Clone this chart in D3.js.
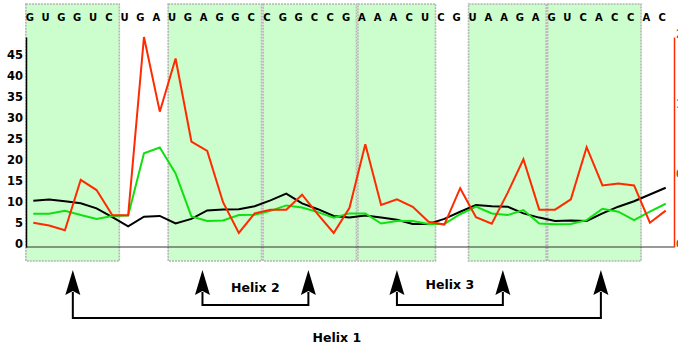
<!DOCTYPE html>
<html>
<head>
<meta charset="utf-8">
<script src="https://cdn.jsdelivr.net/npm/d3@7"></script>
<style>
  html, body { margin: 0; padding: 0; background: #fff; }
  svg { display: block; }
  text { font-family: "DejaVu Sans", sans-serif; font-weight: bold; }
</style>
</head>
<body>
<svg id="chart" width="678" height="346"></svg>
<script>
// RNA sequence, one nucleotide per position
const sequence = "GUGGUCUGAUGAGGCCGGCCGAAACUCGUAAGAGUCACCAC".split("");

// Paired stretches (inclusive nucleotide index ranges)
const pairedBlocks = [[0, 5], [9, 14], [15, 20], [21, 25], [28, 32], [33, 38]];

// Per-position profiles
const blackSeries = [11.0, 11.3, 10.9, 10.4, 9.2, 7.1, 4.9, 7.2, 7.4, 5.6,
  6.7, 8.7, 8.9, 9.0, 9.7, 11.1, 12.7, 10.4, 9.0, 7.4,
  7.0, 7.5, 7.0, 6.5, 5.5, 5.5, 6.7, 8.4, 10.0, 9.7,
  9.6, 8.0, 7.0, 6.2, 6.3, 6.2, 8.0, 9.6, 10.9, 12.5, 14.1];
const greenSeries = [7.9, 7.9, 8.6, 7.6, 6.7, 7.4, 7.5, 22.3, 23.7, 17.5,
  7.3, 6.2, 6.3, 7.6, 7.7, 8.6, 9.9, 9.4, 8.3, 7.0,
  8.0, 8.0, 5.6, 6.2, 6.2, 5.5, 5.5, 7.8, 9.6, 8.0,
  7.6, 8.8, 5.6, 5.4, 5.5, 6.4, 9.1, 8.4, 6.4, 8.4, 10.3];
// Red profile, read on the right-hand axis
const redSeries = [0.26, 0.23, 0.18, 0.72, 0.61, 0.34, 0.34, 2.25, 1.45, 2.02,
  1.13, 1.03, 0.48, 0.15, 0.36, 0.40, 0.40, 0.56, 0.35, 0.15,
  0.42, 1.10, 0.45, 0.51, 0.43, 0.27, 0.24, 0.63, 0.32, 0.25,
  0.58, 0.94, 0.40, 0.40, 0.51, 1.07, 0.66, 0.68, 0.66, 0.26, 0.39];

const leftTicks = [0, 5, 10, 15, 20, 25, 30, 35, 40, 45];
const rightTicks = [0, 0.75, 1.5, 2.25];

// Helices: positions (in nucleotide units) of the two arrows that pair up
const helices = [
  { name: "Helix 1", from: 2.5, to: 35.9, level: 0 },
  { name: "Helix 2", from: 10.7, to: 17.4, level: 1 },
  { name: "Helix 3", from: 23.0, to: 29.7, level: 1 }
];

const svg = d3.select("#chart");

const x = d3.scaleLinear().domain([0, sequence.length - 1]).range([33.3, 665.7]);
const yL = d3.scaleLinear().domain([0, 50]).range([247, 37]);
const yR = d3.scaleLinear().domain([0, 2.25]).range([247, 37]);
const plotLeft = 26, plotRight = 674;

// Shaded paired regions
svg.append("g").selectAll("rect")
  .data(pairedBlocks)
  .join("rect")
  .attr("x", d => x(d[0] - 0.47))
  .attr("y", 4)
  .attr("width", d => x(d[1] + 0.44) - x(d[0] - 0.47))
  .attr("height", 257)
  .attr("fill", "#ccfdcc")
  .attr("stroke", "#b4b4b4")
  .attr("stroke-width", 1.6)
  .attr("stroke-dasharray", "2,1");

// Sequence letters along the top
svg.append("g").selectAll("text")
  .data(sequence)
  .join("text")
  .attr("x", (d, i) => x(i) - 3.5)
  .attr("y", 20.5)
  .attr("text-anchor", "middle")
  .attr("font-size", 10)
  .attr("fill", "#000")
  .text(d => d);

// Baseline
svg.append("line")
  .attr("x1", plotLeft).attr("x2", plotRight)
  .attr("y1", yL(0)).attr("y2", yL(0))
  .attr("stroke", "#333").attr("stroke-width", 1);

// Left axis
const gL = svg.append("g")
  .attr("transform", `translate(${plotLeft},0)`)
  .call(d3.axisLeft(yL).tickValues(leftTicks).tickSize(0).tickPadding(3));
gL.select(".domain").attr("stroke", "#000").attr("stroke-width", 1.5);
gL.selectAll("text")
  .attr("dy", "0")
  .attr("font-size", 11.5)
  .attr("font-family", "DejaVu Sans, sans-serif")
  .attr("font-weight", "bold")
  .attr("fill", "#000");

// Right axis (red profile)
const gR = svg.append("g")
  .attr("transform", `translate(${plotRight},0)`)
  .call(d3.axisRight(yR).tickValues(rightTicks).tickSize(0).tickPadding(2));
gR.select(".domain").attr("stroke", "#ff2a00").attr("stroke-width", 1.5);
gR.selectAll("text")
  .attr("dy", "0")
  .attr("font-size", 11.5)
  .attr("font-family", "DejaVu Sans, sans-serif")
  .attr("font-weight", "bold")
  .attr("fill", "#ff2a00");

// Profiles
const lineL = d3.line().x((d, i) => x(i)).y(d => yL(d));
const lineR = d3.line().x((d, i) => x(i)).y(d => yR(d));

svg.append("path").datum(blackSeries)
  .attr("d", lineL).attr("fill", "none")
  .attr("stroke", "#000").attr("stroke-width", 2).attr("stroke-linejoin", "miter");
svg.append("path").datum(greenSeries)
  .attr("d", lineL).attr("fill", "none")
  .attr("stroke", "#10e010").attr("stroke-width", 2);
svg.append("path").datum(redSeries)
  .attr("d", lineR).attr("fill", "none")
  .attr("stroke", "#ff2a00").attr("stroke-width", 2);

// Helix pairing arrows
const tipY = 270, baseY = 294, halfW = 7.5;
const levelY = [318, 305];
const gH = svg.append("g");
helices.forEach(h => {
  const yb = levelY[h.level];
  const x1 = x(h.from), x2 = x(h.to);
  gH.append("path")
    .attr("d", `M${x1},${baseY - 2}V${yb}H${x2}V${baseY - 2}`)
    .attr("fill", "none").attr("stroke", "#000").attr("stroke-width", 2);
  [x1, x2].forEach(ax => {
    gH.append("path")
      .attr("d", `M${ax},${tipY}L${ax + halfW},${baseY + 1}L${ax},${baseY - 3}L${ax - halfW},${baseY + 1}Z`)
      .attr("fill", "#000");
  });
  gH.append("text")
    .attr("x", (x1 + x2) / 2)
    .attr("y", h.level === 0 ? 342 : (h.name === "Helix 2" ? 292 : 289))
    .attr("text-anchor", "middle")
    .attr("font-size", 12.5)
    .attr("fill", "#000")
    .text(h.name);
});
</script>
</body>
</html>
